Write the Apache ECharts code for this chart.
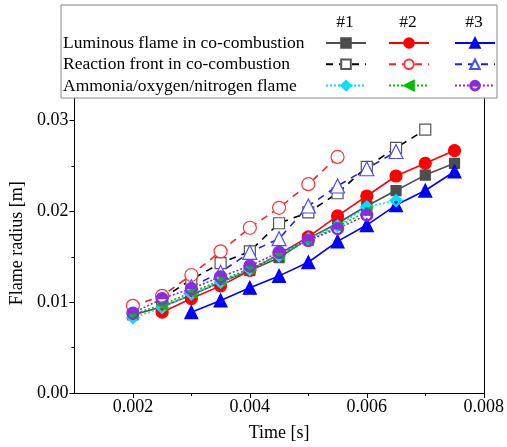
<!DOCTYPE html>
<html>
<head>
<meta charset="utf-8">
<script src="https://cdn.jsdelivr.net/npm/echarts@6/dist/echarts.min.js"></script>
<style>
  html, body { margin: 0; padding: 0; background: #fff; }
  #main { width: 507px; height: 447px; }
</style>
</head>
<body>
<div id="main"></div>
<script>
// time points [s]
const times = [0.002, 0.0025, 0.003, 0.0035, 0.004, 0.0045, 0.005, 0.0055, 0.006, 0.0065, 0.007, 0.0075]

// luminous flame in co-combustion
const lum1 = [0.0086, 0.0095, 0.0108, 0.0122, 0.0135, 0.0149, 0.0170, 0.0187, 0.0206, 0.0223, 0.0240, 0.0253]
const lum2 = [null, 0.0089, 0.0104, 0.0118, 0.0135, 0.0153, 0.0172, 0.0195, 0.0217, 0.0239, 0.0253, 0.0267]
const lum3 = [null, null, 0.0089, 0.0102, 0.0116, 0.0129, 0.0144, 0.0167, 0.0185, 0.0207, 0.0223, 0.0244]
// reaction front in co-combustion
const rf1 = [null, 0.0104, 0.0125, 0.0143, 0.0156, 0.0187, 0.0199, 0.0220, 0.0249, 0.0270, 0.0290, null]
const rf2 = [0.0096, 0.0107, 0.0130, 0.0156, 0.0182, 0.0204, 0.0230, 0.0260, null, null, null, null]
const rf3 = [null, null, 0.0117, 0.0133, 0.0155, 0.0170, 0.0206, 0.0228, 0.0247, 0.0266, null, null]
// ammonia/oxygen/nitrogen flame
const am1 = [0.0083, 0.0094, 0.0109, 0.0122, 0.0136, 0.0151, 0.0170, 0.0184, 0.0205, 0.0212, null, null]
const am2 = [0.0087, 0.0097, 0.0111, 0.0124, 0.0137, 0.0152, 0.0168, 0.0183, 0.0200, null, null, null]
const am3 = [0.0088, 0.0104, 0.0115, 0.0128, 0.0140, 0.0155, 0.0168, 0.0181, 0.0196, null, null, null]

const xLabels = [0.002, 0.004, 0.006, 0.008]
const xMinor = [0.003, 0.005, 0.007]
const rowNames = ['Luminous flame in co-combustion', 'Reaction front in co-combustion', 'Ammonia/oxygen/nitrogen flame']
const colNames = ['#1', '#2', '#3']

const FONT = 'Liberation Serif'

// half filled symbols
const halfCircle = 'path://M0,10 A10,10 0 0 1 20,10 Z M20,10 A10,10 0 0 1 0,10 L2,10 A8,8 0 0 0 18,10 Z'
const halfDiamond = 'path://M0,10 L10,0 L20,10 Z M20,10 L10,20 L0,10 L2.8,10 L10,17.2 L17.2,10 Z'
const leftTri = 'path://M0,10 L20,0 L20,20 Z'

const pairs = (arr) => times.map((t, i) => [t, arr[i]]).filter(p => p[1] !== null)

const mk = (name, arr, color, symbol, size, lineType, opts = {}) => ({
  name: name,
  type: 'line',
  data: pairs(arr),
  symbol: symbol,
  symbolSize: size,
  color: color,
  lineStyle: { color: color, width: 1.6, type: lineType },
  itemStyle: Object.assign({ color: color, borderColor: color, borderWidth: 1.2 }, opts.item || {}),
  animation: false
})

const series = [
  mk('L1', lum1, '#4d4d4d', 'rect', 10, 'solid'),
  mk('L2', lum2, '#ff0000', 'circle', 12, 'solid'),
  mk('L3', lum3, '#0000ff', 'triangle', 13, 'solid'),
  mk('R1', rf1, '#000000', 'rect', 11, [7, 6], { item: { color: '#fff', borderColor: '#555' } }),
  mk('R2', rf2, '#ff2020', 'circle', 13, [7, 6], { item: { color: '#fff', borderColor: '#ff3030' } }),
  mk('R3', rf3, '#1f1fe0', 'triangle', 14, [7, 6], { item: { color: '#fff', borderColor: '#4a4aff' } }),
  mk('A1', am1, '#00e0ff', halfDiamond, 12, [2, 2]),
  mk('A2', am2, '#00c000', leftTri, 10, [2, 2]),
  mk('A3', am3, '#8a2be2', halfCircle, 12, [2, 2])
]

const legendCols = [325, 388, 454]
const legends = legendCols.map((x, c) => ({
  orient: 'vertical',
  left: x,
  top: 37,
  padding: 0,
  itemWidth: 40,
  itemHeight: 12,
  itemGap: 9.5,
  formatter: () => '',
  selectedMode: false,
  data: [['L1', 'R1', 'A1'], ['L2', 'R2', 'A2'], ['L3', 'R3', 'A3']][c]
}))

const graphics = [
  { type: 'rect', shape: { x: 61, y: 5, width: 436, height: 93 }, style: { fill: '#fff', stroke: '#888', lineWidth: 1 }, z: 3 }
]
rowNames.forEach((n, i) => {
  graphics.push({ type: 'text', x: 63, y: 43 + i * 21.5, z: 5,
    style: { text: n, font: '17.5px "' + FONT + '"', fill: '#000', verticalAlign: 'middle' } })
})
colNames.forEach((n, i) => {
  graphics.push({ type: 'text', x: legendCols[i] + 20, y: 22, z: 5,
    style: { text: n, font: '17.5px "' + FONT + '"', fill: '#000', align: 'center', verticalAlign: 'middle' } })
})

const chart = echarts.init(document.getElementById('main'))
chart.setOption({
  animation: false,
  textStyle: { fontFamily: FONT },
  grid: { left: 74, right: 20, top: 93.4, bottom: 50 },
  legend: legends,
  graphic: graphics,
  xAxis: [
    {
      type: 'value', min: 0.001, max: 0.008, interval: 0.001,
      name: 'Time [s]', nameLocation: 'middle', nameGap: 31,
      nameTextStyle: { fontSize: 18, color: '#000', fontFamily: FONT },
      axisLine: { lineStyle: { color: '#000', width: 1 } },
      axisTick: { show: true, length: 5, customValues: xLabels, lineStyle: { color: '#000' } },
      axisLabel: { customValues: xLabels, fontSize: 18, color: '#000', margin: 5, formatter: v => v.toFixed(3) },
      splitLine: { show: false }
    },
    {
      type: 'value', min: 0.001, max: 0.008, position: 'bottom', interval: 0.001,
      axisLine: { show: false },
      axisTick: { show: true, length: 3, customValues: xMinor, lineStyle: { color: '#000' } },
      axisLabel: { show: false },
      splitLine: { show: false }
    }
  ],
  yAxis: [
    {
      type: 'value', min: 0, max: 0.033, interval: 0.01,
      name: 'Flame radius [m]', nameLocation: 'middle', nameGap: 44,
      nameTextStyle: { fontSize: 18, color: '#000', fontFamily: FONT },
      axisLine: { show: true, lineStyle: { color: '#000', width: 1 } },
      axisTick: { show: true, length: 5, lineStyle: { color: '#000' } },
      minorTick: { show: true, splitNumber: 2, length: 3, lineStyle: { color: '#000' } },
      axisLabel: { fontSize: 18, color: '#000', margin: 6, showMaxLabel: false, formatter: v => v.toFixed(2) },
      splitLine: { show: false }
    },
    {
      type: 'value', min: 0, max: 0.033, position: 'right',
      axisLine: { show: true, lineStyle: { color: '#000', width: 1 } },
      axisTick: { show: false }, axisLabel: { show: false }, splitLine: { show: false }
    }
  ],
  series: series
})
</script>
</body>
</html>
